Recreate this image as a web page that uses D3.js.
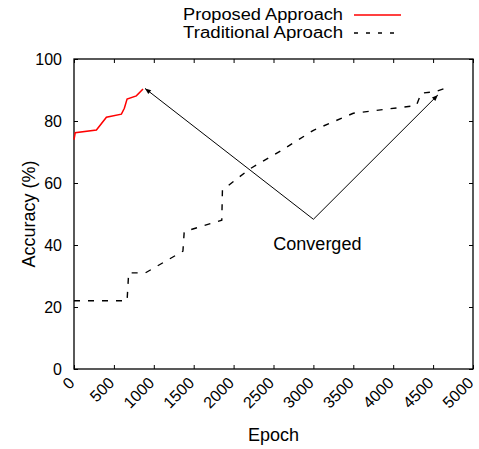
<!DOCTYPE html>
<html>
<head>
<meta charset="utf-8">
<script src="https://cdn.jsdelivr.net/npm/d3@7"></script>
<style>
  html, body { margin: 0; padding: 0; background: #fff; }
  svg { display: block; font-family: "Liberation Sans", Arial, Helvetica, sans-serif; }
</style>
</head>
<body>
<svg id="chart" width="479" height="449"></svg>
<script>
// Proposed approach: accuracy (%) by epoch
const proposedEpoch = [0, 15, 281, 406, 594, 631, 665, 781, 865];
const proposedAcc   = [74, 76.2, 77.1, 81.2, 82.2, 84.1, 87.1, 88.1, 90.3];

// Traditional approach: accuracy (%) by epoch
const traditionalEpoch = [0, 665, 685, 894, 1365, 1381, 1852, 1860, 2200, 2600, 3000, 3500, 4290, 4352, 4519, 4706];
const traditionalAcc   = [22, 22, 31, 31, 38, 44.3, 48, 57.7, 64.5, 70.5, 77, 82.5, 85, 89, 89.4, 91];

// Axis ticks
const xTicks = [0, 500, 1000, 1500, 2000, 2500, 3000, 3500, 4000, 4500, 5000];
const yTicks = [0, 20, 40, 60, 80, 100];

// "Converged" annotation: shared tail point, arrow heads, label anchor
const arrowTail = [3000, 48.3];
const arrowHeadEpoch = [890, 4560];
const arrowHeadAcc   = [90.5, 88.4];
const convergedLabel = [3050, 38.4];

const legendLabels = ["Proposed Approach", "Traditional Aproach"];

const svg = d3.select("#chart");
const plotLeft = 74, plotRight = 473, plotTop = 59, plotBottom = 369;

const x = d3.scaleLinear().domain([0, 5000]).range([plotLeft, plotRight]);
const y = d3.scaleLinear().domain([0, 100]).range([plotBottom, plotTop]);

// Arrow marker
svg.append("defs").append("marker")
  .attr("id", "arrowhead")
  .attr("viewBox", "0 0 10 10")
  .attr("refX", 10).attr("refY", 5)
  .attr("markerUnits", "userSpaceOnUse")
  .attr("markerWidth", 8).attr("markerHeight", 6)
  .attr("orient", "auto")
  .append("path")
  .attr("d", "M0,1 L10,5 L0,9 Z")
  .attr("fill", "#000");

// Axes with inward ticks on all four sides
const tickLen = 4;
const gx = svg.append("g").attr("transform", `translate(0,${plotBottom})`)
  .call(d3.axisBottom(x).tickValues(xTicks).tickFormat(d3.format("d"))
    .tickSize(-tickLen).tickPadding(0));
gx.selectAll("text")
  .attr("font-size", 16)
  .attr("text-anchor", "end")
  .attr("dy", null)
  .attr("y", null)
  .attr("transform", "translate(1,15) rotate(-45)");

svg.append("g").attr("transform", `translate(0,${plotTop})`)
  .call(d3.axisTop(x).tickValues(xTicks).tickSize(-tickLen).tickFormat(""));

const gy = svg.append("g").attr("transform", `translate(${plotLeft},0)`)
  .call(d3.axisLeft(y).tickValues(yTicks).tickSize(-tickLen).tickPadding(12));
gy.selectAll("text").attr("font-size", 16).attr("dy", "0.37em");

svg.append("g").attr("transform", `translate(${plotRight},0)`)
  .call(d3.axisRight(y).tickValues(yTicks).tickSize(-tickLen).tickFormat(""));

svg.selectAll(".domain").remove();
svg.selectAll(".tick line").attr("stroke", "#000").attr("stroke-width", 1);
svg.selectAll(".tick text").attr("fill", "#000").attr("font-family", "Liberation Sans, Arial, sans-serif");

// Frame
svg.append("rect")
  .attr("x", plotLeft).attr("y", plotTop)
  .attr("width", plotRight - plotLeft).attr("height", plotBottom - plotTop)
  .attr("fill", "none").attr("stroke", "#000").attr("stroke-width", 1.3);

// Axis titles
svg.append("text")
  .attr("x", (plotLeft + plotRight) / 2).attr("y", 441)
  .attr("text-anchor", "middle").attr("font-size", 18)
  .text("Epoch");
svg.append("text")
  .attr("transform", `translate(35,${(plotTop + plotBottom) / 2}) rotate(-90)`)
  .attr("text-anchor", "middle").attr("font-size", 18)
  .text("Accuracy (%)");

// Series
const line = d3.line().x(d => x(d[0])).y(d => y(d[1]));

svg.append("path")
  .datum(traditionalEpoch.map((e, i) => [e, traditionalAcc[i]]))
  .attr("d", line)
  .attr("fill", "none").attr("stroke", "#000")
  .attr("stroke-width", 1.4).attr("stroke-dasharray", "6,8");

svg.append("path")
  .datum(proposedEpoch.map((e, i) => [e, proposedAcc[i]]))
  .attr("d", line)
  .attr("fill", "none").attr("stroke", "#f00")
  .attr("stroke-width", 1.5);

// Annotation arrows
arrowHeadEpoch.forEach((e, i) => {
  svg.append("line")
    .attr("x1", x(arrowTail[0])).attr("y1", y(arrowTail[1]))
    .attr("x2", x(e)).attr("y2", y(arrowHeadAcc[i]))
    .attr("stroke", "#000").attr("stroke-width", 1)
    .attr("marker-end", "url(#arrowhead)");
});
svg.append("text")
  .attr("x", x(convergedLabel[0])).attr("y", y(convergedLabel[1]))
  .attr("text-anchor", "middle").attr("font-size", 18)
  .text("Converged");

// Legend
const legend = svg.append("g");
const legendStyles = [
  { stroke: "#f00", dash: null, width: 1.5 },
  { stroke: "#000", dash: "4,8", width: 1.4 }
];
legendLabels.forEach((label, i) => {
  const by = 20 + i * 18;
  legend.append("text")
    .attr("x", 343).attr("y", by)
    .attr("text-anchor", "end").attr("font-size", 16)
    .attr("textLength", 160).attr("lengthAdjust", "spacingAndGlyphs")
    .text(label);
  legend.append("line")
    .attr("x1", 354).attr("x2", 401)
    .attr("y1", by - 5).attr("y2", by - 5)
    .attr("stroke", legendStyles[i].stroke)
    .attr("stroke-width", legendStyles[i].width)
    .attr("stroke-dasharray", legendStyles[i].dash);
});
</script>
</body>
</html>
